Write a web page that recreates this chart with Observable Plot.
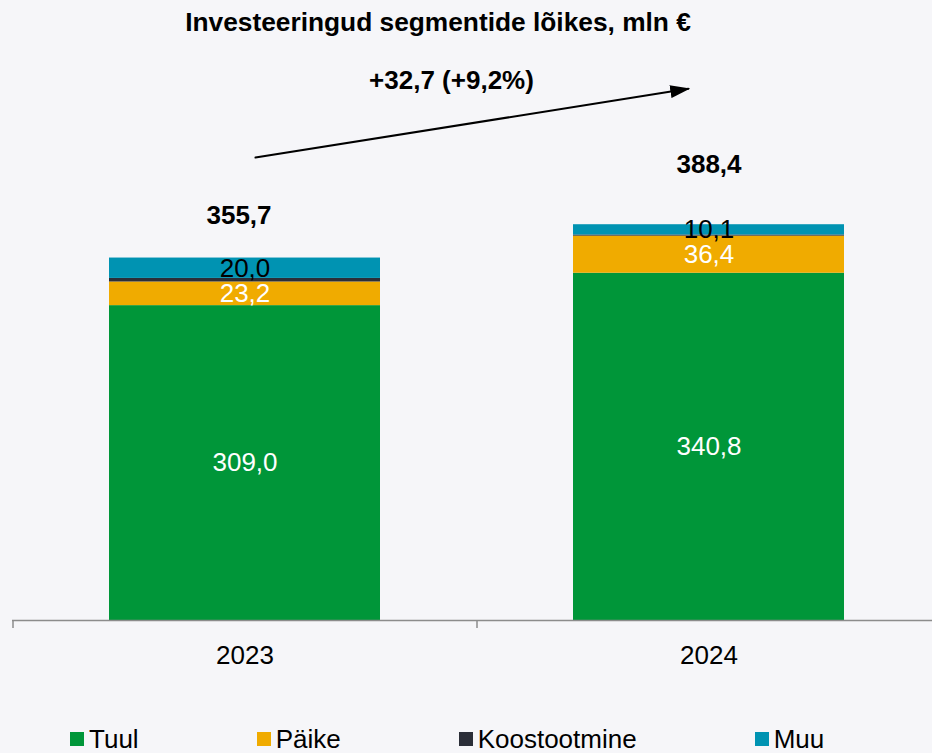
<!DOCTYPE html>
<html><head><meta charset="utf-8">
<script src="https://cdn.jsdelivr.net/npm/d3@7"></script>
<script src="https://cdn.jsdelivr.net/npm/@observablehq/plot@0.6"></script>
<style>
html,body{margin:0;padding:0;background:#f6f6f9;}
body{width:932px;height:753px;overflow:hidden;font-family:"Liberation Sans",Arial,sans-serif;color:#000;}
#title{height:44px;line-height:44px;font-size:26.3px;font-weight:bold;text-align:center;padding-right:56px;box-sizing:border-box;width:932px;}
#chart svg{display:block;}
#legend{display:flex;gap:118px;padding-left:70px;padding-top:20px;line-height:30px;font-size:26px;}
.item{display:flex;align-items:center;}
.sw{width:14px;height:14px;margin-right:5px;}
</style></head>
<body>
<div id="title">Investeeringud segmentide lõikes, mln €</div>
<div id="chart"></div>
<div id="legend"></div>
<script>
const years = ["2023", "2024"];
const series = ["Tuul", "Päike", "Koostootmine", "Muu"];
const colors = ["#009639", "#f0ab00", "#2b2e38", "#0093b2"];
const tuul = [309.0, 340.8];
const paike = [23.2, 36.4];
const koostootmine = [3.5, 1.1];
const muu = [20.0, 10.1];
const totals = [355.7, 388.4];
const changeLabel = "+32,7 (+9,2%)";

const data = [];
years.forEach((yr, i) => {
  [tuul, paike, koostootmine, muu].forEach((arr, j) =>
    data.push({year: yr, series: series[j], value: arr[i]}));
});
const totalRows = years.map((yr, i) => ({year: yr, total: totals[i]}));
const fmt = v => v.toFixed(1).replace(".", ",");

const pxPerUnit = 1.019;
const baseline = 576;
const yMax = 560;
const xRange = [12, 940];
const step = (xRange[1] - xRange[0]) / years.length;
const font = '"Liberation Sans", Arial, sans-serif';

const plot = Plot.plot({
  width: 932, height: 660,
  marginLeft: 12, marginRight: 0, marginTop: 0, marginBottom: 84,
  style: {background: "transparent", fontFamily: font, fontSize: "26px", color: "#000"},
  x: {domain: years, range: xRange, paddingInner: 0.416, paddingOuter: 0.208, align: 0.5, label: null},
  y: {domain: [0, yMax], range: [baseline, baseline - yMax * pxPerUnit], axis: null},
  color: {domain: series, range: colors},
  marks: [
    Plot.barY(data, {x: "year", y: "value", fill: "series"}),
    Plot.ruleY([0], {stroke: "#8c8c8c", strokeWidth: 1.5}),
    Plot.ruleX(years, {x: d => d, y1: () => 0, y2: () => 0, insetBottom: -8, dx: -step / 2, stroke: "#8c8c8c", strokeWidth: 1.5}),
    Plot.axisX({tickSize: 0, tickPadding: 25, fontSize: 26, label: null}),
    Plot.text(data, Plot.stackY({x: "year", y: "value", z: "series",
      text: d => (d.series === "Tuul" || d.series === "Päike") ? fmt(d.value) : null,
      fill: "white", fontSize: 26})),
    Plot.text(data, Plot.stackY({x: "year", y: "value", z: "series",
      text: d => d.series === "Muu" ? fmt(d.value) : null,
      fill: "black", fontSize: 26})),
    Plot.text(totalRows.filter(d => d.year === "2023"), {x: "year", y: "total", text: d => fmt(d.total), dx: -6, dy: -42, fontWeight: "bold", fontSize: 26, fill: "black"}),
    Plot.text(totalRows.filter(d => d.year === "2024"), {x: "year", y: "total", text: d => fmt(d.total), dy: -60, fontWeight: "bold", fontSize: 26, fill: "black"}),
    Plot.text([{label: changeLabel, y: 530}], {y: "y", text: "label", frameAnchor: "middle", dx: -21, fontWeight: "bold", fontSize: 26, fill: "black"}),
    Plot.arrow([{x1: "2023", x2: "2024", y1: 452.7, y2: 525}], {x1: "x1", x2: "x2", y1: "y1", y2: "y2", insetStart: 10.6, insetEnd: 21, headLength: 0, stroke: "black", strokeWidth: 2})
  ]
});

const svg = d3.select(plot);
const defs = svg.append("defs");
defs.append("marker").attr("id", "ahead").attr("viewBox", "-18 -7 20 14")
  .attr("markerWidth", 20).attr("markerHeight", 14).attr("refX", 0).attr("refY", 0)
  .attr("orient", "auto").attr("markerUnits", "userSpaceOnUse")
  .append("path").attr("d", "M2,0L-18,-6.5L-18,6.5Z").attr("fill", "black");
svg.selectAll('g[aria-label="arrow"] path').attr("marker-end", "url(#ahead)");

document.getElementById("chart").appendChild(plot);

const legend = d3.select("#legend");
series.forEach((s, i) => {
  const it = legend.append("div").attr("class", "item");
  it.append("div").attr("class", "sw").style("background", colors[i]);
  it.append("span").text(s);
});
</script>
</body></html>
